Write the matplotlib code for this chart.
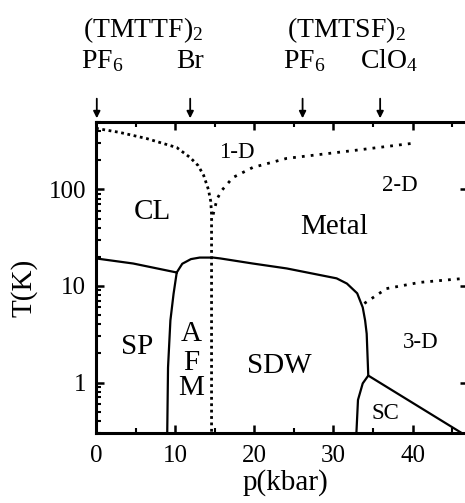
import matplotlib
matplotlib.use("Agg")
import matplotlib.pyplot as plt
from matplotlib.ticker import LogLocator, NullFormatter, FixedLocator, MultipleLocator
import matplotlib.transforms as mtransforms

plt.rcParams['font.family'] = ['Liberation Serif', 'DejaVu Serif']
plt.rcParams['mathtext.fontset'] = 'custom'
plt.rcParams['mathtext.rm'] = 'Liberation Serif'
plt.rcParams['mathtext.it'] = 'Liberation Serif:italic'
plt.rcParams['mathtext.bf'] = 'Liberation Serif:bold'

# ---- data (p in kbar, T in K) ----
cl_p = [0, 3, 6.4, 10.2, 11.9, 12.9, 13.6, 14.2, 14.5, 14.6, 14.6]
cl_T = [430, 390, 337, 272, 214, 177, 140, 100, 75, 55, 0.3]

d1_p = [14.8, 15.3, 15.9, 17.3, 19.8, 24.1, 32.5, 39.9]
d1_T = [55, 80, 98, 133, 169, 210, 253, 300]

sp_p = [0, 4.7, 10.2]
sp_T = [19.3, 17.1, 13.8]

sdw_p = [10.2, 10.9, 12.0, 13.1, 14.8, 15.7, 19.8, 24.1, 30.4, 31.7, 33.0, 33.7, 34.0, 34.2, 34.4]
sdw_T = [13.8, 17.0, 19.0, 19.7, 19.7, 19.3, 17.1, 15.2, 12.0, 10.6, 8.4, 6.0, 4.4, 3.2, 1.18]

afm_p = [10.2, 9.8, 9.4, 9.1, 9.0]
afm_T = [13.8, 8.3, 4.4, 1.43, 0.3]

sc_p = [32.9, 33.1, 33.7, 34.4, 46.2]
sc_T = [0.3, 0.66, 0.98, 1.18, 0.3]

d3_p = [33.9, 36.7, 40.9, 46.6, 47.0]
d3_T = [6.6, 9.4, 10.9, 12.0, 12.1]

region_labels = ["CL", "1-D", "2-D", "Metal", "SP", "SDW", "3-D", "SC", "A", "F", "M"]
region_p = [7.1, 17.8, 38.4, 30.1, 5.2, 23.1, 41.0, 36.5, 12.0, 12.0, 12.0]
region_T = [57.8, 242, 110, 40.4, 2.36, 1.5, 2.6, 0.48, 3.22, 1.61, 0.87]
region_size = [21, 16.5, 16.5, 21, 21, 21, 16.5, 16.5, 21, 21, 21]

compound_p = [0.1, 11.9, 26.1, 35.9]
compound_labels = ["PF$_6$", "Br", "PF$_6$", "ClO$_4$"]
compound_label_x = [102, 190, 304, 389]   # pixel centres of the labels
family_labels = ["(TMTTF)$_2$", "(TMTSF)$_2$"]
family_x = [143, 346]

xticks = [0, 10, 20, 30, 40]

W, H = 465, 503
fig = plt.figure(figsize=(W / 100, H / 100), dpi=100)
left, right, bottom, top = 96, 468, 433, 122
ax = fig.add_axes([left / W, 1 - bottom / H, (right - left) / W, (bottom - top) / H])

ax.set_yscale('log')
ax.set_xlim(0, 47)
ax.set_ylim(0.3, 500)

lw = 1.6
ax.plot(cl_p, cl_T, color='black', lw=2.0, ls=(0, (1, 1.3)))
ax.plot(d1_p, d1_T, color='black', lw=2.0, ls=(0, (1, 2.2)))
ax.plot(d3_p, d3_T, color='black', lw=2.0, ls=(0, (1, 2.2)))
ax.plot(sp_p, sp_T, color='black', lw=lw)
ax.plot(sdw_p, sdw_T, color='black', lw=lw)
ax.plot(afm_p, afm_T, color='black', lw=lw)
ax.plot(sc_p, sc_T, color='black', lw=lw)

for lab, p, T, s in zip(region_labels, region_p, region_T, region_size):
    ax.text(p, T, lab, fontsize=s, ha='center', va='center')

# ticks
ax.xaxis.set_major_locator(FixedLocator(xticks))
ax.xaxis.set_minor_locator(MultipleLocator(5))
ax.yaxis.set_major_locator(LogLocator(base=10, numticks=10))
ax.yaxis.set_minor_locator(LogLocator(base=10, subs=range(2, 10), numticks=20))
ax.yaxis.set_minor_formatter(NullFormatter())
ax.set_yticks([1, 10, 100])
ax.set_yticklabels(["1", "10", "100"])
ax.tick_params(which='major', direction='in', length=6, width=1.8, labelsize=18,
               top=True, right=True, pad=7)
ax.tick_params(which='minor', direction='in', length=3.5, width=1.5, top=True, right=False)
ax.tick_params(axis='x', which='major', pad=9)
for sp in ax.spines.values():
    sp.set_linewidth(2.2)

# arrows above the plot
trans = mtransforms.blended_transform_factory(ax.transData, ax.transAxes)
for p in compound_p:
    ax.annotate('', xy=(p, 1.012), xycoords=trans, xytext=(p, 1.075), textcoords=trans,
                arrowprops=dict(arrowstyle='-|>', color='black', lw=1.3,
                                mutation_scale=10, shrinkA=0, shrinkB=0),
                annotation_clip=False)

for lab, x in zip(compound_labels, compound_label_x):
    fig.text(x / W, 1 - 68 / H, lab, fontsize=20, ha='center', va='baseline')
for lab, x in zip(family_labels, family_x):
    fig.text(x / W, 1 - 37 / H, lab, fontsize=20, ha='center', va='baseline')

fig.text(285 / W, 1 - 490 / H, "p(kbar)", fontsize=21, ha='center', va='baseline')
fig.text(24 / W, 1 - 288 / H, "T(K)", fontsize=21, ha='center', va='center', rotation=90)

fig.savefig("out.png", dpi=100)
